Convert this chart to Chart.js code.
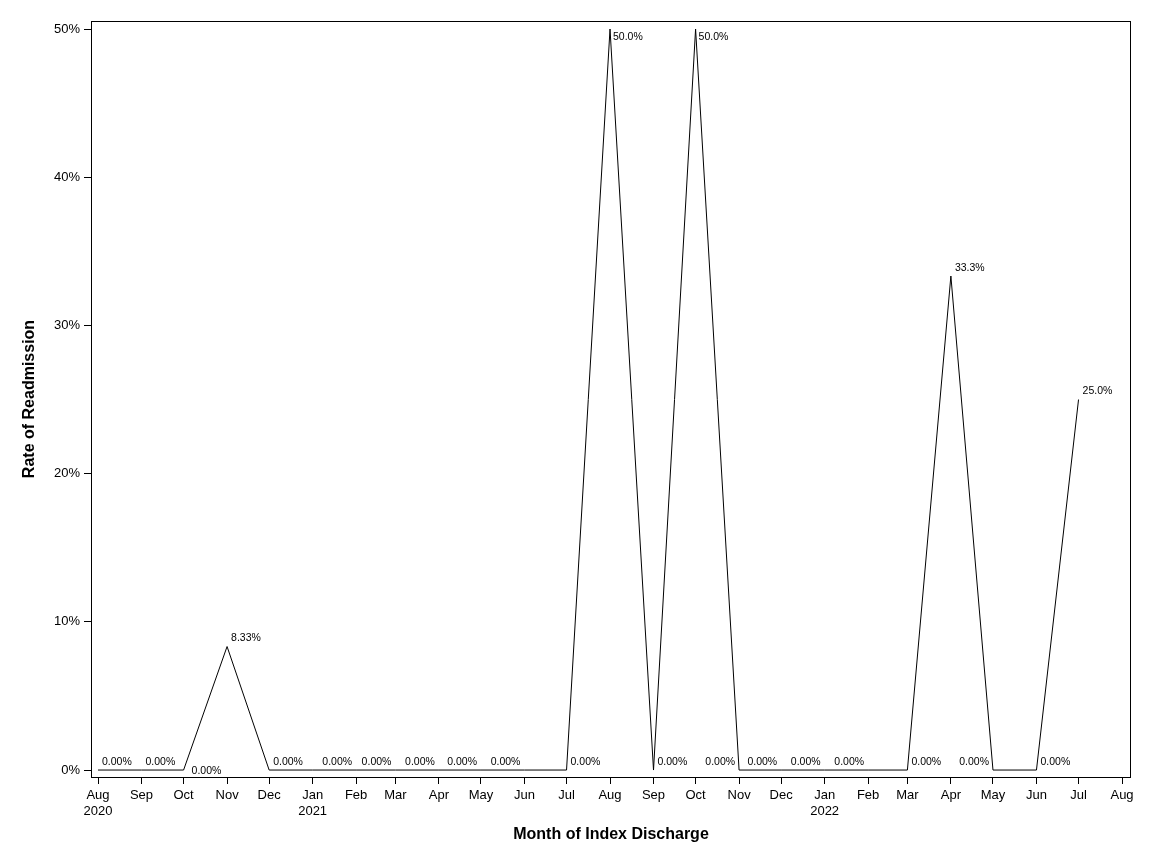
<!DOCTYPE html>
<html>
<head>
<meta charset="utf-8">
<script src="https://cdn.jsdelivr.net/npm/chart.js@4/dist/chart.umd.min.js"></script>
<style>
  html, body { margin: 0; padding: 0; background: #fff; }
</style>
</head>
<body>
<canvas id="myChart" width="1152" height="864"></canvas>
<script>
// months of index discharge (year, month 1-12)
const months = [
  "2020-08", "2020-09", "2020-10", "2020-11", "2020-12",
  "2021-01", "2021-02", "2021-03", "2021-04", "2021-05", "2021-06", "2021-07",
  "2021-08", "2021-09", "2021-10", "2021-11", "2021-12",
  "2022-01", "2022-02", "2022-03", "2022-04", "2022-05", "2022-06", "2022-07"
];
// readmission rate, percent
const rates = [
  0, 0, 0, 8.333, 0,
  0, 0, 0, 0, 0, 0, 0,
  50, 0, 50, 0, 0,
  0, 0, 0, 33.333, 0, 0, 25
];
// where each point label sits (r = right, l = left, rb = right below, c = right centre, "" = none)
const labelPos = [
  "r", "r", "c", "r", "r",
  "", "l", "l", "l", "l", "l", "r",
  "rb", "r", "rb", "l", "l",
  "l", "l", "r", "r", "l", "r", "r"
];
// axis tick months
const tickMonths = [
  "2020-08", "2020-09", "2020-10", "2020-11", "2020-12",
  "2021-01", "2021-02", "2021-03", "2021-04", "2021-05", "2021-06", "2021-07",
  "2021-08", "2021-09", "2021-10", "2021-11", "2021-12",
  "2022-01", "2022-02", "2022-03", "2022-04", "2022-05", "2022-06", "2022-07", "2022-08"
];
const yTicks = [0, 10, 20, 30, 40, 50];
const monthNames = ["Jan", "Feb", "Mar", "Apr", "May", "Jun", "Jul", "Aug", "Sep", "Oct", "Nov", "Dec"];

const FONT = "'Liberation Sans', Arial, sans-serif";

function toDay(s) {
  const p = s.split("-");
  return Date.UTC(+p[0], +p[1] - 1, 1) / 86400000;
}
function tickLabel(day) {
  const d = new Date(day * 86400000);
  const m = d.getUTCMonth();
  const name = monthNames[m];
  const first = day === toDay(tickMonths[0]);
  if (first || m === 0) return [name, String(d.getUTCFullYear())];
  return name;
}

const points = months.map((m, i) => ({ x: toDay(m), y: rates[i] }));

const framePlugin = {
  id: "frame",
  afterDraw(chart) {
    const a = chart.chartArea;
    const ctx = chart.ctx;
    ctx.save();
    ctx.strokeStyle = "#000";
    ctx.lineWidth = 1;
    ctx.strokeRect(Math.round(a.left) + 0.5, Math.round(a.top) + 0.5,
      Math.round(a.right - a.left) - 1, Math.round(a.bottom - a.top));
    ctx.restore();
  }
};

const labelPlugin = {
  id: "pointLabels",
  afterDatasetsDraw(chart) {
    const ctx = chart.ctx;
    const meta = chart.getDatasetMeta(0);
    ctx.save();
    ctx.font = "10.5px " + FONT;
    ctx.fillStyle = "#000";
    ctx.textBaseline = "middle";
    meta.data.forEach((el, i) => {
      const pos = labelPos[i];
      if (!pos) return;
      const text = rates[i].toPrecision(3) + "%";
      let x = el.x, y = el.y;
      if (pos === "r") { ctx.textAlign = "left"; x += 4; y -= 8; }
      else if (pos === "l") { ctx.textAlign = "right"; x -= 4; y -= 8; }
      else if (pos === "rb") { ctx.textAlign = "left"; x += 3; y += 8; }
      else if (pos === "c") { ctx.textAlign = "left"; x += 8; y += 1; }
      ctx.fillText(text, x, y);
    });
    ctx.restore();
  }
};

const ctx = document.getElementById("myChart").getContext("2d");
new Chart(ctx, {
  type: "line",
  data: {
    datasets: [
      {
        data: points,
        borderColor: "#000",
        borderWidth: 1,
        pointRadius: 0,
        tension: 0,
        fill: false,
      },
    ],
  },
  options: {
    responsive: false,
    animation: false,
    devicePixelRatio: 1,
    layout: { padding: { top: 21, right: 21, left: 0, bottom: 0 } },
    plugins: {
      legend: { display: false },
      tooltip: { enabled: false },
    },
    scales: {
      x: {
        type: "linear",
        min: toDay(tickMonths[0]) - 5,
        max: toDay(tickMonths[tickMonths.length - 1]) + 6.4,
        afterBuildTicks: (scale) => {
          scale.ticks = tickMonths.map((m) => ({ value: toDay(m) }));
        },
        afterFit: (scale) => { scale.height = 87; },
        border: { display: false },
        grid: { drawOnChartArea: false, drawTicks: true, tickLength: 7, color: "#000" },
        ticks: {
          autoSkip: false,
          maxRotation: 0,
          padding: 4,
          color: "#000",
          font: { family: FONT, size: 13 },
          callback: (v) => tickLabel(v),
        },
        title: {
          display: true,
          text: "Month of Index Discharge",
          color: "#000",
          font: { family: FONT, size: 16, weight: "bold" },
          padding: { top: 0, bottom: 20 },
        },
      },
      y: {
        min: -0.47,
        max: 50.54,
        afterBuildTicks: (scale) => {
          scale.ticks = yTicks.map((v) => ({ value: v }));
        },
        afterFit: (scale) => { scale.width = 91; },
        border: { display: false },
        grid: { drawOnChartArea: false, drawTicks: true, tickLength: 7, color: "#000" },
        ticks: {
          padding: 4,
          color: "#000",
          font: { family: FONT, size: 13 },
          callback: (v) => v + "%",
        },
        title: {
          display: true,
          text: "Rate of Readmission",
          color: "#000",
          font: { family: FONT, size: 16, weight: "bold" },
          padding: { top: 20, bottom: 0 },
        },
      },
    },
  },
  plugins: [framePlugin, labelPlugin],
});
</script>
</body>
</html>
